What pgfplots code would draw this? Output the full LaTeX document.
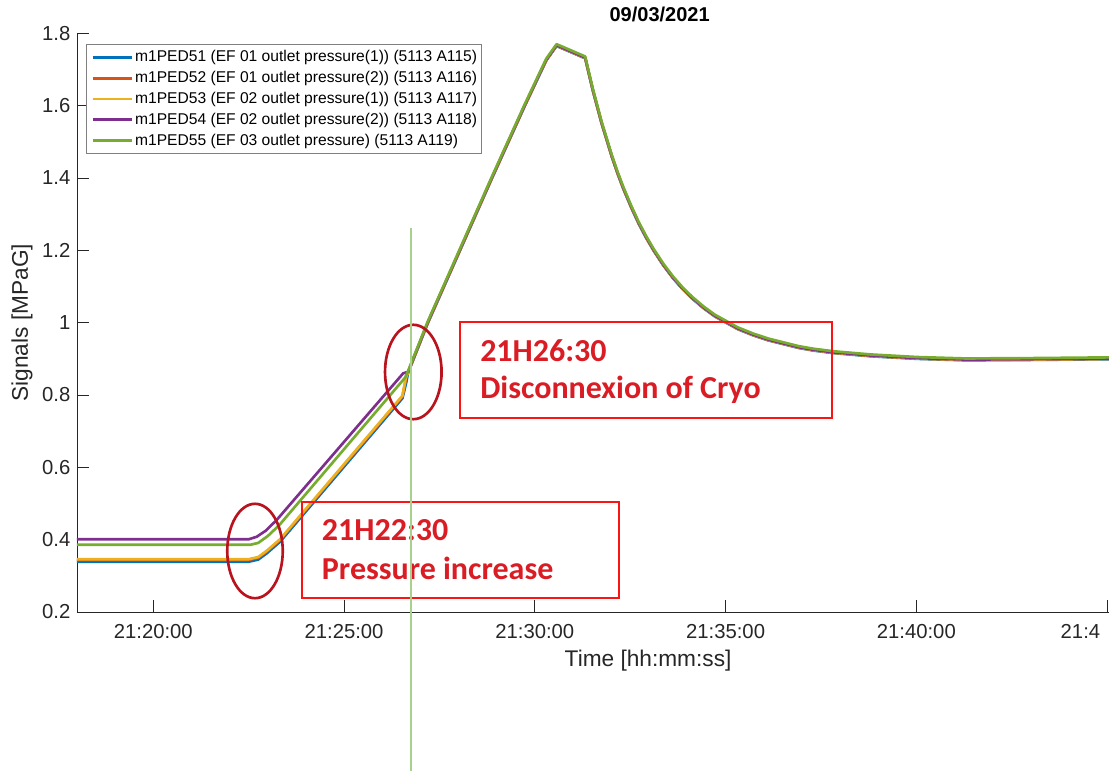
\documentclass[border=0pt]{standalone}
\usepackage{fontspec}
\setmainfont{Liberation Sans}
\newfontfamily\calib{Carlito}
\usepackage{pgfplots}
\pgfplotsset{compat=1.18}
\definecolor{mblue}{rgb}{0,0.447,0.741}
\definecolor{morange}{rgb}{0.85,0.325,0.098}
\definecolor{myellow}{rgb}{0.929,0.694,0.125}
\definecolor{mpurple}{rgb}{0.494,0.184,0.556}
\definecolor{mgreen}{rgb}{0.466,0.674,0.188}
\definecolor{axgray}{RGB}{38,38,38}
\definecolor{leggray}{RGB}{128,128,128}
\definecolor{boxred}{RGB}{250,20,20}
\definecolor{txtred}{RGB}{218,28,36}
\definecolor{ellred}{RGB}{185,20,30}
\definecolor{vgreen}{RGB}{169,209,142}
\begin{document}
\begin{tikzpicture}[x=0.75pt,y=0.75pt]
\useasboundingbox (0,0) rectangle (1109,771);
\clip (0,0) rectangle (1109,771);
\begin{axis}[
  at={(57.75pt,119.25pt)}, anchor=south west,
  scale only axis, width=867pt, height=434pt,
  xmin=18, xmax=48.3, ymin=0.2, ymax=1.8,
  axis lines=left,
  axis line style={-, draw=axgray, line width=0.6pt},
  tick align=inside, major tick length=8.7pt,
  tick style={axgray, line width=0.6pt},
  xtick={20,25,30,35,40,45},
  xticklabels={21:20:00,21:25:00,21:30:00,21:35:00,21:40:00,21:4\hspace*{40pt}},
  ytick={0.2,0.4,0.6,0.8,1,1.2,1.4,1.6,1.8},
  yticklabels={0.2,0.4,0.6,0.8,1,1.2,1.4,1.6,1.8},
  /pgf/number format/assume math mode=true,
  ticklabel style={font=\fontsize{15.2}{18}\selectfont, text=axgray},
  xticklabel style={yshift=-6pt},
  yticklabel style={xshift=-1.5pt},
  xlabel={Time [hh:mm:ss]},
  xlabel style={at={(axis description cs:0.494,-0.0847)}, anchor=center, font=\fontsize{17}{20}\selectfont, text=axgray},
  ylabel={Signals [MPaG]},
  ylabel style={at={(axis description cs:-0.0476,0.5)}, anchor=center, font=\fontsize{17}{20}\selectfont, text=axgray},
  title={09/03/2021},
  title style={at={(axis description cs:0.504,1.0196)}, anchor=center, font=\fontsize{15}{18}\selectfont\bfseries},
  legend cell align=left,
  legend image code/.code={\draw[#1] (0pt,0pt) -- (29.7pt,0pt);},
  legend style={at={(axis description cs:0.0081,0.9819)}, anchor=north west,
    draw=leggray, line width=0.6pt, fill=white,
    font=\fontsize{11.7}{14}\selectfont,
    inner xsep=3.3pt, inner ysep=2.1pt, row sep=0pt, column sep=1.3pt,
    nodes={inner xsep=0pt, inner ysep=0pt, text height=11.2pt, text depth=4.4pt}},
  every axis plot/.append style={line width=2pt, line join=round},
]
\addplot[color=mblue] coordinates {
(18,0.339) (22.50,0.339) (22.75,0.345) (22.97,0.362) (23.32,0.394) (26.53,0.791) (26.62,0.830) (26.68,0.862)
(27.20,1.000) (28.04,1.200) (28.88,1.400) (29.74,1.600) (30.30,1.725) (30.57,1.765) (31.32,1.731)
(31.52,1.642) (31.75,1.551) (32.02,1.458) (32.17,1.412) (32.32,1.370) (32.52,1.320) (32.72,1.274)
(32.92,1.234) (33.12,1.198) (33.37,1.158) (33.62,1.123) (33.87,1.093) (34.12,1.067) (34.42,1.040)
(34.72,1.017) (35.32,0.982) (35.72,0.965) (36.12,0.951) (36.92,0.930) (37.30,0.923) (37.82,0.916)
(38.82,0.907) (40.02,0.900) (41.30,0.896) (43.00,0.897) (45.05,0.899) (48.30,0.902)};
\addlegendentry{m1PED51 (EF 01 outlet pressure(1)) (5113 A115)}
\addplot[color=morange] coordinates {
(18,0.344) (22.50,0.344) (22.75,0.350) (22.97,0.367) (23.32,0.399) (26.53,0.796) (26.62,0.845) (26.68,0.863)
(27.20,1.001) (28.04,1.201) (28.88,1.401) (29.74,1.601) (30.30,1.726) (30.57,1.766) (31.32,1.732)
(31.52,1.643) (31.75,1.552) (32.02,1.459) (32.17,1.413) (32.32,1.371) (32.52,1.321) (32.72,1.275)
(32.92,1.235) (33.12,1.199) (33.37,1.159) (33.62,1.124) (33.87,1.094) (34.12,1.068) (34.42,1.041)
(34.72,1.018) (35.32,0.983) (35.72,0.966) (36.12,0.952) (36.92,0.931) (37.30,0.924) (37.82,0.917)
(38.82,0.908) (40.02,0.901) (41.30,0.897) (43.00,0.898) (45.05,0.900) (48.30,0.903)};
\addlegendentry{m1PED52 (EF 01 outlet pressure(2)) (5113 A116)}
\addplot[color=myellow] coordinates {
(18,0.346) (22.50,0.346) (22.75,0.352) (22.97,0.369) (23.32,0.401) (26.53,0.798) (26.62,0.848) (26.68,0.863)
(27.20,1.001) (28.04,1.201) (28.88,1.401) (29.74,1.601) (30.30,1.726) (30.57,1.766) (31.32,1.732)
(31.52,1.643) (31.75,1.552) (32.02,1.459) (32.17,1.413) (32.32,1.371) (32.52,1.321) (32.72,1.275)
(32.92,1.235) (33.12,1.199) (33.37,1.159) (33.62,1.124) (33.87,1.094) (34.12,1.068) (34.42,1.041)
(34.72,1.018) (35.32,0.983) (35.72,0.966) (36.12,0.952) (36.92,0.931) (37.30,0.924) (37.82,0.917)
(38.82,0.908) (40.02,0.901) (41.30,0.897) (43.00,0.898) (45.05,0.900) (48.30,0.903)};
\addlegendentry{m1PED53 (EF 02 outlet pressure(1)) (5113 A117)}
\addplot[color=mpurple] coordinates {
(18,0.401) (22.50,0.401) (22.71,0.408) (22.95,0.425) (23.23,0.454) (26.55,0.860) (26.68,0.864)
(27.20,1.002) (28.04,1.202) (28.88,1.402) (29.74,1.602) (30.30,1.727) (30.57,1.767) (31.32,1.733)
(31.52,1.644) (31.75,1.553) (32.02,1.460) (32.17,1.414) (32.32,1.372) (32.52,1.322) (32.72,1.276)
(32.92,1.236) (33.12,1.200) (33.37,1.160) (33.62,1.125) (33.87,1.095) (34.12,1.069) (34.42,1.042)
(34.72,1.019) (35.32,0.984) (35.72,0.967) (36.12,0.953) (36.92,0.932) (37.30,0.925) (37.82,0.918)
(38.82,0.909) (40.02,0.902) (41.30,0.898) (43.00,0.899) (45.05,0.901) (48.30,0.904)};
\addlegendentry{m1PED54 (EF 02 outlet pressure(2)) (5113 A118)}
\addplot[color=mgreen] coordinates {
(18,0.386) (22.55,0.386) (22.75,0.391) (23.00,0.410) (23.30,0.440) (26.60,0.848) (26.68,0.867)
(27.20,1.005) (28.04,1.205) (28.88,1.405) (29.74,1.605) (30.30,1.730) (30.57,1.770) (31.32,1.736)
(31.52,1.647) (31.75,1.556) (32.02,1.463) (32.17,1.417) (32.32,1.375) (32.52,1.325) (32.72,1.279)
(32.92,1.239) (33.12,1.203) (33.37,1.163) (33.62,1.128) (33.87,1.098) (34.12,1.072) (34.42,1.045)
(34.72,1.022) (35.32,0.987) (35.72,0.970) (36.12,0.956) (36.92,0.935) (37.30,0.928) (37.82,0.921)
(38.82,0.912) (40.02,0.905) (41.30,0.901) (43.00,0.902) (45.05,0.904) (48.30,0.907)};
\addlegendentry{m1PED55 (EF 03 outlet pressure) (5113 A119)}
\end{axis}
% annotations
\draw[boxred, line width=1.5pt] (460,449.3) rectangle (831.7,353);
\draw[boxred, line width=1.5pt] (302,269.3) rectangle (619,172.7);
\begin{scope}[every node/.style={anchor=base west, inner sep=0pt, text=txtred, font=\calib\bfseries\fontsize{24}{26}\selectfont}]
\node at (480,409.3) {21H26:30};
\node at (480,372.7) {Disconnexion of Cryo};
\node at (321.7,230) {21H22:30};
\node at (321.7,191.7) {Pressure increase};
\end{scope}
\draw[ellred, line width=2pt] (255,220) ellipse [x radius=20.8pt, y radius=35.4pt];
\draw[ellred, line width=2pt] (413.3,399) ellipse [x radius=21.2pt, y radius=35.4pt];
\draw[vgreen, line width=1.5pt] (411,543) -- (411,0);
\end{tikzpicture}
\end{document}
